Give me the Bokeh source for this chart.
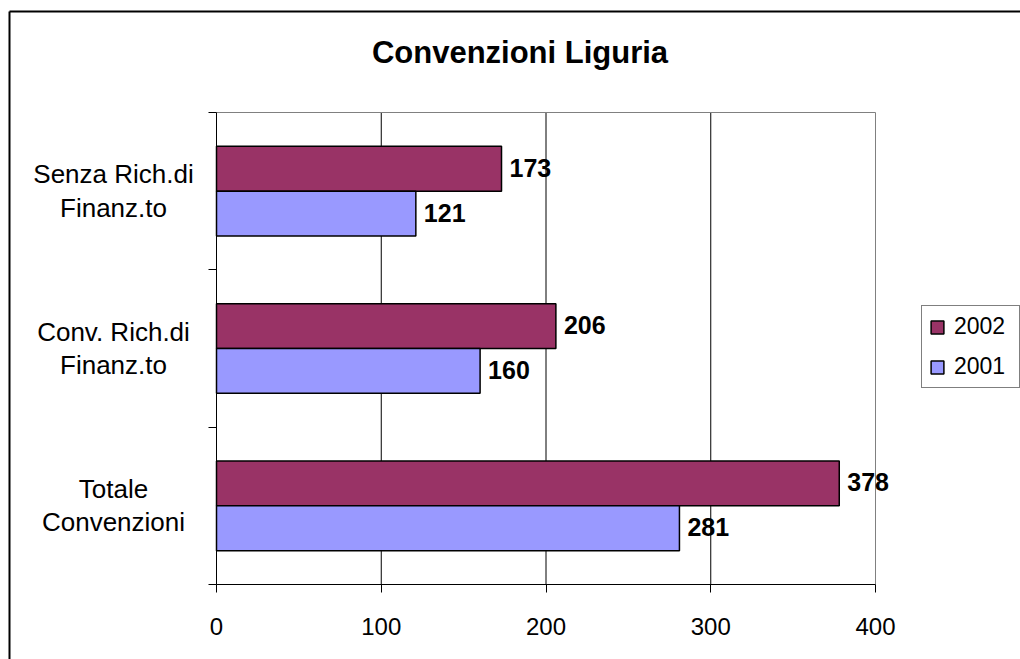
from bokeh.plotting import figure
from bokeh.models import (ColumnDataSource, FixedTicker, Label, Legend, LegendItem, Range1d)
from bokeh.core.properties import value
from bokeh.embed import file_html
from bokeh.resources import INLINE

# ---- data ----
title_text = "Convenzioni Liguria"
categories_line1 = ["Totale", "Conv. Rich.di", "Senza Rich.di"]
categories_line2 = ["Convenzioni", "Finanz.to", "Finanz.to"]
series_names = ["2002", "2001"]
values_2002 = [378, 206, 173]
values_2001 = [281, 160, 121]
x_ticks = [0, 100, 200, 300, 400]
grid_ticks = [100, 200, 300]
category_bounds = [0, 1, 2, 3]
colors = ["#993366", "#9999FF"]

FONT = "Liberation Sans"
BAR_H = 0.285

# ---- layout (pixels) ----
W, H = 1020, 659
X0_PX, X400_PX = 216, 875        # plot area left / right
YTOP_PX, YBOT_PX = 112, 584      # plot area top / bottom
XMAX, NCAT = 400, 3
sx = (X400_PX - X0_PX) / XMAX
sy = (YBOT_PX - YTOP_PX) / NCAT
x_start = -X0_PX / sx
x_end = (W - X0_PX) / sx
y_start = -(H - YBOT_PX) / sy
y_end = NCAT + YTOP_PX / sy

p = figure(width=W, height=H, x_range=Range1d(x_start, x_end), y_range=Range1d(y_start, y_end),
           output_backend="svg", toolbar_location=None, title=None,
           min_border=0, min_border_left=0, min_border_right=0,
           min_border_top=0, min_border_bottom=0)
p.background_fill_color = "white"
p.border_fill_color = "white"
p.outline_line_color = None
p.grid.visible = False

# outer chart-area border (left/top visible; right/bottom run off the page)
bx = (9 - X0_PX) / sx
by = NCAT + (YTOP_PX - 11) / sy
p.segment(x0=[bx, bx], y0=[by, by], x1=[x_end + 5, bx], y1=[by, y_start - 1],
          line_color="black", line_width=2)

# vertical gridlines
p.segment(x0=grid_ticks, y0=[0] * len(grid_ticks), x1=grid_ticks, y1=[NCAT] * len(grid_ticks),
          line_color="black", line_width=1)

centers = [i + 0.5 for i in range(NCAT)]
src02 = ColumnDataSource(dict(y=[c + BAR_H / 2 for c in centers], v=values_2002,
                              t=[str(v) for v in values_2002]))
src01 = ColumnDataSource(dict(y=[c - BAR_H / 2 for c in centers], v=values_2001,
                              t=[str(v) for v in values_2001]))

r02 = p.hbar(y="y", right="v", left=0, height=BAR_H, source=src02,
             fill_color=colors[0], line_color="black", line_width=1.5)
r01 = p.hbar(y="y", right="v", left=0, height=BAR_H, source=src01,
             fill_color=colors[1], line_color="black", line_width=1.5)

# plot-area outline (grey top and right)
p.segment(x0=[0, XMAX], y0=[NCAT, 0], x1=[XMAX, XMAX], y1=[NCAT, NCAT],
          line_color="#808080", line_width=1)

# value labels
for s in (src02, src01):
    p.text(x="v", y="y", text="t", source=s, x_offset=8, y_offset=-1,
           text_baseline="alphabetic", text_align="left",
           text_font=value(FONT), text_font_size=value("25px"), text_font_style="bold",
           text_color="black")

# axes (placed at data 0)
p.xaxis.fixed_location = 0
p.xaxis.bounds = (0, XMAX)
p.xaxis.ticker = FixedTicker(ticks=x_ticks)
p.xaxis.major_tick_in = 0
p.xaxis.major_tick_out = 8
p.xaxis.minor_tick_line_color = None
p.xaxis.axis_line_color = "black"
p.xaxis.major_tick_line_color = "black"
p.xaxis.major_label_text_font = FONT
p.xaxis.major_label_text_font_size = "24px"
p.xaxis.major_label_text_color = "black"
p.xaxis.major_label_standoff = 25

p.yaxis.fixed_location = 0
p.yaxis.bounds = (0, NCAT)
p.yaxis.ticker = FixedTicker(ticks=category_bounds)
p.yaxis.major_label_overrides = {b: "" for b in category_bounds}
p.yaxis.major_tick_in = 0
p.yaxis.major_tick_out = 8
p.yaxis.minor_tick_line_color = None
p.yaxis.axis_line_color = "black"
p.yaxis.major_tick_line_color = "black"

# category labels (two lines each)
for txt, off in ((categories_line1, -17), (categories_line2, 16.5)):
    p.text(x=[0] * NCAT, y=centers, text=txt, x_offset=-103, y_offset=off,
           text_align="center", text_baseline="alphabetic",
           text_font=value(FONT), text_font_size=value("26px"), text_color="black")

# title
p.add_layout(Label(x=519.5, y=H - 52, x_units="screen", y_units="screen", text=title_text,
                   text_align="center", text_baseline="alphabetic", text_font=FONT,
                   text_font_size="31px", text_font_style="bold", text_color="black"))

legend = Legend(items=[LegendItem(label=series_names[0], renderers=[r02]),
                       LegendItem(label=series_names[1], renderers=[r01])],
                location=(921, H - 388), orientation="vertical")
legend.glyph_width = 16
legend.glyph_height = 16
legend.label_standoff = 9
legend.label_width = 58
legend.padding = 7
legend.spacing = 13
legend.margin = 0
legend.label_text_font = FONT
legend.label_text_font_size = "23px"
legend.label_text_color = "black"
legend.border_line_color = "black"
legend.border_line_width = 1
legend.background_fill_color = "white"
legend.background_fill_alpha = 1
p.add_layout(legend, "center")

open("out.html", "w").write(file_html(p, INLINE))
